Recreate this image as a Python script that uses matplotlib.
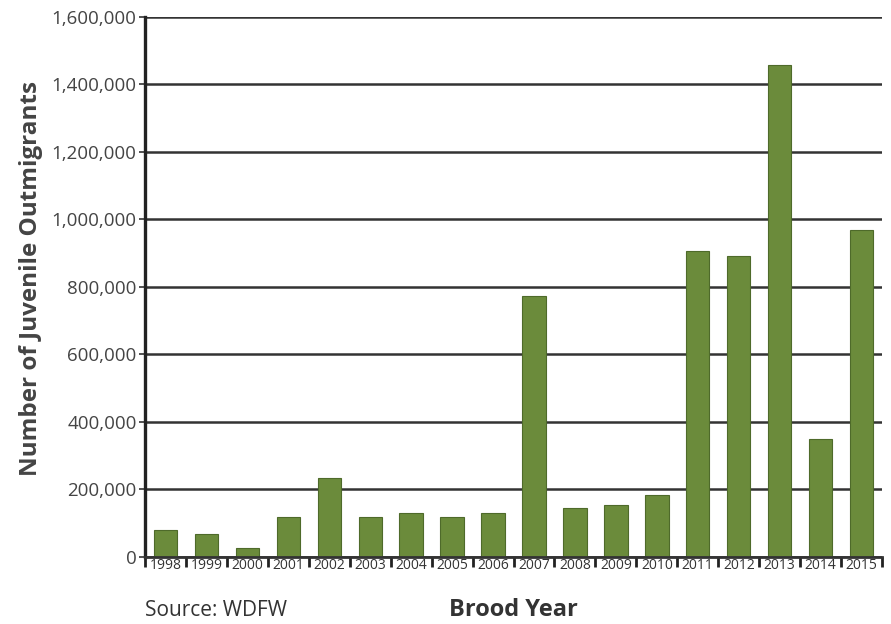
import numpy as np
import matplotlib
matplotlib.use('Agg')
import matplotlib.pyplot as plt
from matplotlib.ticker import FuncFormatter, FixedLocator

#%% data
years = ['1998', '1999', '2000', '2001', '2002', '2003', '2004', '2005', '2006',
         '2007', '2008', '2009', '2010', '2011', '2012', '2013', '2014', '2015']
outmigrants = [80000, 68000, 28000, 118000, 234000, 118000, 130000, 118000, 130000,
               773000, 145000, 154000, 184000, 907000, 892000, 1458000, 350000, 969000]
y_ticks = [0, 200000, 400000, 600000, 800000, 1000000, 1200000, 1400000, 1600000]

plt.rcParams['font.family'] = ['Open Sans', 'DejaVu Sans']

#%% figure
fig = plt.figure(figsize=(8.91, 6.24), dpi=100)
ax = fig.add_axes([0.1627, 0.1074, 0.8273, 0.8654])

x = np.arange(len(years))
ax.bar(x, outmigrants, width=0.57, color='#6b8b3b', edgecolor='#4e6a2a',
       linewidth=0.8, zorder=3)

ax.set_xlim(-0.5, len(years) - 0.5)
ax.set_ylim(0, 1600000)

# y axis
ax.set_yticks(y_ticks)
ax.yaxis.set_major_formatter(FuncFormatter(lambda v, p: '{:,.0f}'.format(v)))
ax.tick_params(axis='y', length=4, width=1.2, color='#333333', labelsize=13.5,
               labelcolor='#444444', pad=2)
ax.grid(axis='y', color='#333333', linewidth=1.8, zorder=1)

# x axis: ticks at boundaries, labels at centres
ax.xaxis.set_major_locator(FixedLocator(np.arange(len(years) + 1) - 0.5))
ax.xaxis.set_major_formatter(FuncFormatter(lambda v, p: ''))
ax.xaxis.set_minor_locator(FixedLocator(x))
ax.set_xticklabels(years, minor=True)
ax.tick_params(axis='x', which='major', length=7, width=2, color='#222222', direction='out')
ax.tick_params(axis='x', which='minor', length=0, labelsize=10, labelcolor='#333333', pad=1)

for s in ['top', 'right']:
    ax.spines[s].set_visible(False)
ax.spines['left'].set_linewidth(2.4)
ax.spines['left'].set_color('#222222')
ax.spines['bottom'].set_linewidth(2.0)
ax.spines['bottom'].set_color('#333333')
ax.spines['left'].set_zorder(4)
ax.spines['bottom'].set_zorder(4)

ax.set_ylabel('Number of Juvenile Outmigrants', fontsize=17.5, fontweight='bold',
              color='#444444', labelpad=5)
ax.yaxis.set_label_coords(-0.139, 0.515)

fig.text(145 / 891, 1 - 610 / 624, 'Source: WDFW', fontsize=15, color='#333333',
         ha='left', va='center')
fig.text(513 / 891, 1 - 610 / 624, 'Brood Year', fontsize=17, fontweight='bold',
         color='#333333', ha='center', va='center')

fig.savefig('out.png', dpi=100)
